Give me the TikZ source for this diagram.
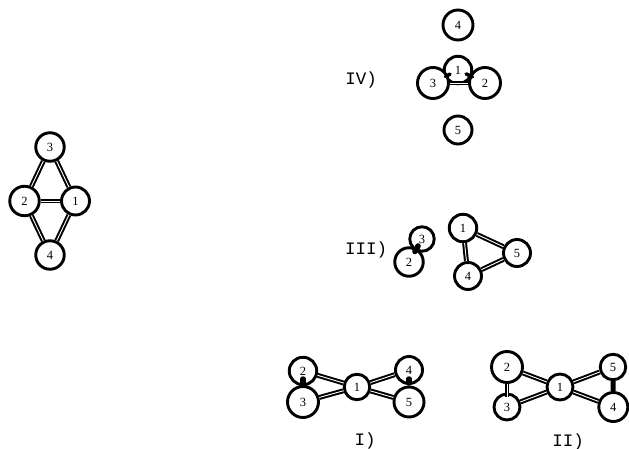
\documentclass[tikz,border=0pt]{standalone}
\usepackage{fontspec}
\setmainfont{Liberation Serif}
\newfontfamily\labelfont{Liberation Mono}
\tikzset{
  nd/.style={circle,draw=black,fill=white,line width=2.9pt,inner sep=0pt,font=\fontsize{12.5}{12.5}\selectfont},
  bond/.style={draw=black,double=white,line width=2pt,double distance=0.9pt},
  hbond/.style={draw=black,line width=3.6pt,line cap=round,shorten <=9pt,shorten >=14pt},
  blob/.style={draw=black,line width=5.5pt,line cap=round},
  roman/.style={font=\labelfont\fontsize{17.5}{17.5}\selectfont,inner sep=0pt}
}
\begin{document}
\begin{tikzpicture}[x=1pt,y=-1pt]
\useasboundingbox (0,0) rectangle (629,449);
% left molecule
\node[nd,minimum size=28.5pt] (a3) at (50,147) {3};
\node[nd,minimum size=29.5pt] (a2) at (24.5,201) {2};
\node[nd,minimum size=28pt] (a1) at (75.5,201) {1};
\node[nd,minimum size=28.5pt] (a4) at (50,255) {4};
\draw[bond] (a3) -- (a2);
\draw[bond] (a3) -- (a1);
\draw[bond] (a2) -- (a1);
\draw[bond] (a4) -- (a2);
\draw[bond] (a4) -- (a1);
% IV
\node[nd,minimum size=30pt] (b4) at (458,25) {4};
\node[nd,minimum size=28pt] (b5) at (458,130) {5};
\node[nd,minimum size=27.5pt] (b1) at (458,70) {1};
\node[nd,minimum size=31pt] (b3) at (433,83) {3};
\node[nd,minimum size=31pt] (b2) at (485,83) {2};
\draw[bond] (b3) -- (b2);
\draw[hbond] (b1.center) -- (b3.center);
\draw[hbond] (b1.center) -- (b2.center);
\node[roman] (lIV) at (361,80) {IV)};
% III
\node[nd,minimum size=24.5pt] (c3) at (422,239) {3};
\node[nd,minimum size=28.5pt] (c2) at (409,262) {2};
\node[nd,minimum size=27.5pt] (c1) at (463,228) {1};
\node[nd,minimum size=27pt] (c5) at (517,253) {5};
\node[nd,minimum size=27pt] (c4) at (468,276) {4};
\draw[bond] (c1) -- (c5);
\draw[bond] (c5) -- (c4);
\draw[bond] (c1) -- (c4);
\draw[blob,shorten <=8pt,shorten >=12pt] (c3.center) -- (c2.center);
\node[roman] (lIII) at (366,250) {III)};
% I
\node[nd,minimum size=27.5pt] (d2) at (303,371) {2};
\node[nd,minimum size=31pt] (d3) at (303,402) {3};
\node[nd,minimum size=25.5pt] (d1) at (357,387) {1};
\node[nd,minimum size=27pt] (d4) at (409,370) {4};
\node[nd,minimum size=30pt] (d5) at (409,402) {5};
\draw[bond] (d1) -- (d2);
\draw[bond] (d1) -- (d3);
\draw[bond] (d1) -- (d4);
\draw[bond] (d1) -- (d5);
\draw[blob,shorten <=8pt,shorten >=19pt] (d2.center) -- (d3.center);
\draw[blob,shorten <=9pt,shorten >=19pt] (d4.center) -- (d5.center);
\node[roman] (lI) at (365,441) {I)};
% II
\node[nd,minimum size=31pt] (e2) at (507,367) {2};
\node[nd,minimum size=26pt] (e3) at (507,407) {3};
\node[nd,minimum size=26pt] (e1) at (560,387) {1};
\node[nd,minimum size=25.5pt] (e5) at (613,367) {5};
\node[nd,minimum size=29pt] (e4) at (613.3,407) {4};
\draw[bond] (e1) -- (e2);
\draw[bond] (e1) -- (e3);
\draw[bond] (e1) -- (e5);
\draw[bond] (e1) -- (e4);
\draw[bond,shorten >=-4pt] (e2) -- (e3);
\draw[draw=black,line width=5pt] (e5) -- (e4);
\node[roman] (lII) at (568,442) {II)};
\end{tikzpicture}
\end{document}
